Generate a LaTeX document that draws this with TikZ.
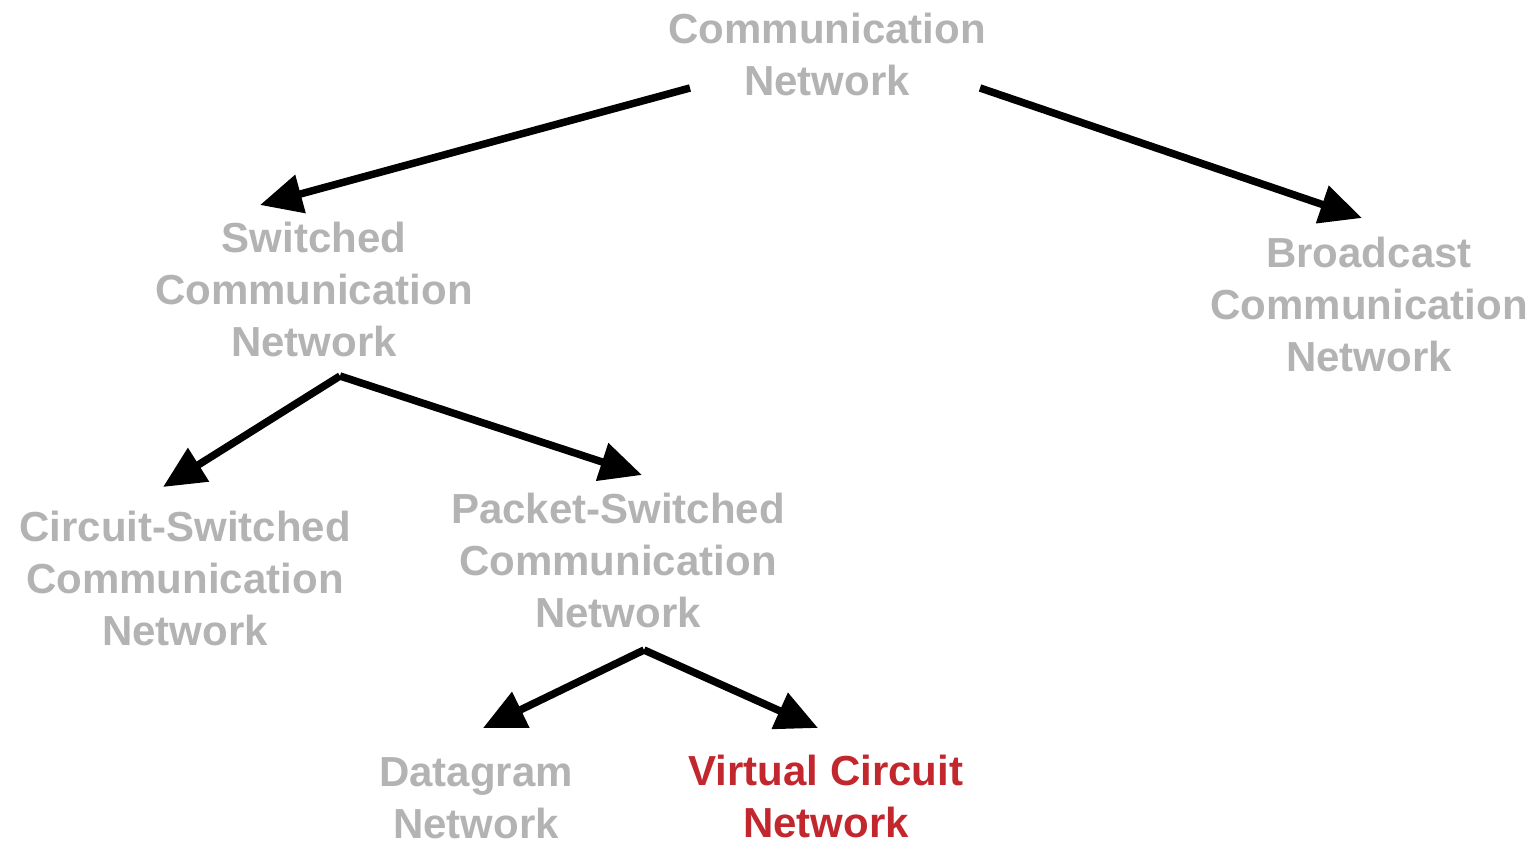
\documentclass[tikz,border=0pt]{standalone}
\usepackage{fontspec}
\setmainfont{Liberation Sans}
\usetikzlibrary{positioning, arrows.meta}

\definecolor{lightgray}{HTML}{B3B3B3}
\definecolor{hlred}{HTML}{C1272D}

\begin{document}
\begin{tikzpicture}[
    x=1pt, y=-1pt,
    >={Triangle[length=42pt, width=38pt]},
    netlabel/.style={align=center, inner sep=0pt, text=lightgray, font=\fontsize{42}{52}\selectfont\bfseries},
    hllabel/.style={netlabel, text=hlred},
    treearrow/.style={->, line width=7.5pt, black}
]
\useasboundingbox (0,0) rectangle (1534,843);

% 1. Top level
\node[netlabel] (comm) at (827,54) {Communication\\Network};

% 2. Second level
\node[netlabel] (switched) at (314,289) {Switched\\Communication\\Network};
\node[netlabel] (broadcast) at (1369,304) {Broadcast\\Communication\\Network};

% 3. Third level
\node[netlabel] (circuit) at (185,578) {Circuit-Switched\\Communication\\Network};
\node[netlabel] (packet) at (618,560) {Packet-Switched\\Communication\\Network};

% 4. Leaves
\node[netlabel] (datagram) at (476,798) {Datagram\\Network};
\node[hllabel] (virtual) at (826,796) {Virtual Circuit\\Network};

% 5. Arrow end points
\coordinate (comm_l) at (690,88);
\coordinate (comm_r) at (980,88);
\coordinate (switched_s) at (340,376);
\coordinate (packet_s) at (644,650);
\coordinate (switched_in) at (260,205);
\coordinate (broadcast_in) at (1362,218);
\coordinate (circuit_in) at (163,487);
\coordinate (packet_in) at (642,475);
\coordinate (datagram_in) at (483,728);
\coordinate (virtual_in) at (818,728);

% 6. Arrows
\draw[treearrow] (comm_l) -- (switched_in);
\draw[treearrow] (comm_r) -- (broadcast_in);
\draw[treearrow] (switched_s) -- (circuit_in);
\draw[treearrow] (switched_s) -- (packet_in);
\draw[treearrow] (packet_s) -- (datagram_in);
\draw[treearrow] (packet_s) -- (virtual_in);

\end{tikzpicture}
\end{document}
